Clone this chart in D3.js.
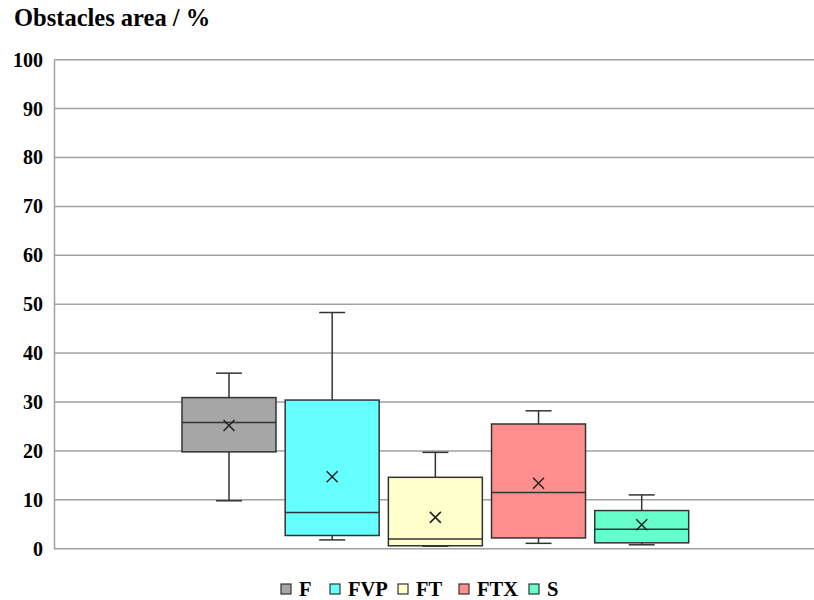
<!DOCTYPE html>
<html>
<head>
<meta charset="utf-8">
<script src="https://cdn.jsdelivr.net/npm/d3@7"></script>
<style>
  body { margin: 0; background: #fff; }
  svg { display: block; }
  text { font-family: "Liberation Serif", "Times New Roman", serif; font-weight: bold; fill: #000; }
</style>
</head>
<body>
<svg id="chart" width="814" height="600"></svg>
<script>
// Obstacle area (%) per group: five-number summary plus mean
const groups   = ["F", "FVP", "FT", "FTX", "S"];
const colors   = ["#a6a6a6", "#66ffff", "#ffffcc", "#ff8f8f", "#66ffcc"];
const whiskerLow  = [9.8, 1.8, 0.5, 1.1, 0.8];
const quartile1   = [19.8, 2.7, 0.6, 2.2, 1.2];
const medians     = [25.8, 7.4, 2.0, 11.5, 4.0];
const quartile3   = [30.9, 30.4, 14.6, 25.5, 7.8];
const whiskerHigh = [35.9, 48.3, 19.7, 28.2, 11.0];
const means       = [25.2, 14.7, 6.4, 13.4, 4.9];
const yTicks = [0, 10, 20, 30, 40, 50, 60, 70, 80, 90, 100];

const svg = d3.select("#chart");
const plot = { left: 54, right: 814, top: 59.7, bottom: 548.7 };

const y = d3.scaleLinear().domain([0, 100]).range([plot.bottom, plot.top]);

// one category with the five groups side by side
const x = d3.scaleBand().domain(groups)
  .range([182, 688.7]).paddingInner(0.089).paddingOuter(0.0);

// gridlines
svg.append("g").selectAll("line").data(yTicks.filter(d => d > 0)).join("line")
  .attr("x1", plot.left).attr("x2", plot.right)
  .attr("y1", d => y(d)).attr("y2", d => y(d))
  .attr("stroke", "#a0a0a0").attr("stroke-width", 1.5);

// y axis with labels
const yAxis = d3.axisLeft(y).tickValues(yTicks).tickSize(0).tickPadding(11);
const ga = svg.append("g").attr("transform", `translate(${plot.left},0)`).call(yAxis);
ga.select(".domain").attr("stroke", "#a0a0a0").attr("stroke-width", 1.5);
ga.selectAll("text").style("font-size", "20px")
  .style("font-family", '"Liberation Serif", serif').style("font-weight", "bold");

// x baseline
svg.append("line").attr("x1", plot.left).attr("x2", plot.right)
  .attr("y1", y(0)).attr("y2", y(0)).attr("stroke", "#a0a0a0").attr("stroke-width", 1.5);

// boxes
const data = groups.map((g, i) => ({
  g, c: colors[i], lo: whiskerLow[i], q1: quartile1[i], med: medians[i],
  q3: quartile3[i], hi: whiskerHigh[i], mean: means[i]
}));
const bw = x.bandwidth();
const box = svg.append("g").selectAll("g").data(data).join("g")
  .attr("transform", d => `translate(${x(d.g)},0)`);

const line = "#333";
// whiskers
box.append("line").attr("x1", bw / 2).attr("x2", bw / 2)
  .attr("y1", d => y(d.hi)).attr("y2", d => y(d.q3)).attr("stroke", line).attr("stroke-width", 1.5);
box.append("line").attr("x1", bw / 2).attr("x2", bw / 2)
  .attr("y1", d => y(d.q1)).attr("y2", d => y(d.lo)).attr("stroke", line).attr("stroke-width", 1.5);
box.append("line").attr("x1", bw / 2 - 13).attr("x2", bw / 2 + 13)
  .attr("y1", d => y(d.hi)).attr("y2", d => y(d.hi)).attr("stroke", line).attr("stroke-width", 1.5);
box.append("line").attr("x1", bw / 2 - 13).attr("x2", bw / 2 + 13)
  .attr("y1", d => y(d.lo)).attr("y2", d => y(d.lo)).attr("stroke", line).attr("stroke-width", 1.5);
// box body
box.append("rect").attr("x", 0).attr("width", bw)
  .attr("y", d => y(d.q3)).attr("height", d => y(d.q1) - y(d.q3))
  .attr("fill", d => d.c).attr("stroke", line).attr("stroke-width", 1.5);
// median
box.append("line").attr("x1", 0).attr("x2", bw)
  .attr("y1", d => y(d.med)).attr("y2", d => y(d.med)).attr("stroke", line).attr("stroke-width", 1.5);
// mean marker
const s = 5.5;
box.append("path")
  .attr("d", d => `M${bw/2 - s},${y(d.mean) - s}L${bw/2 + s},${y(d.mean) + s}M${bw/2 - s},${y(d.mean) + s}L${bw/2 + s},${y(d.mean) - s}`)
  .attr("stroke", "#222").attr("stroke-width", 1.5).attr("fill", "none");

// title
svg.append("text").attr("x", 14).attr("y", 26).style("font-size", "24.5px")
  .text("Obstacles area / %");

// legend
const legendX = [281, 330, 398, 459, 529];
const leg = svg.append("g").selectAll("g").data(data).join("g")
  .attr("transform", (d, i) => `translate(${legendX[i]},584)`);
leg.append("rect").attr("width", 10).attr("height", 10)
  .attr("fill", d => d.c).attr("stroke", "#333").attr("stroke-width", 1.2);
leg.append("text").attr("x", 18).attr("y", 11.5).style("font-size", "20.5px").text(d => d.g);
</script>
</body>
</html>
